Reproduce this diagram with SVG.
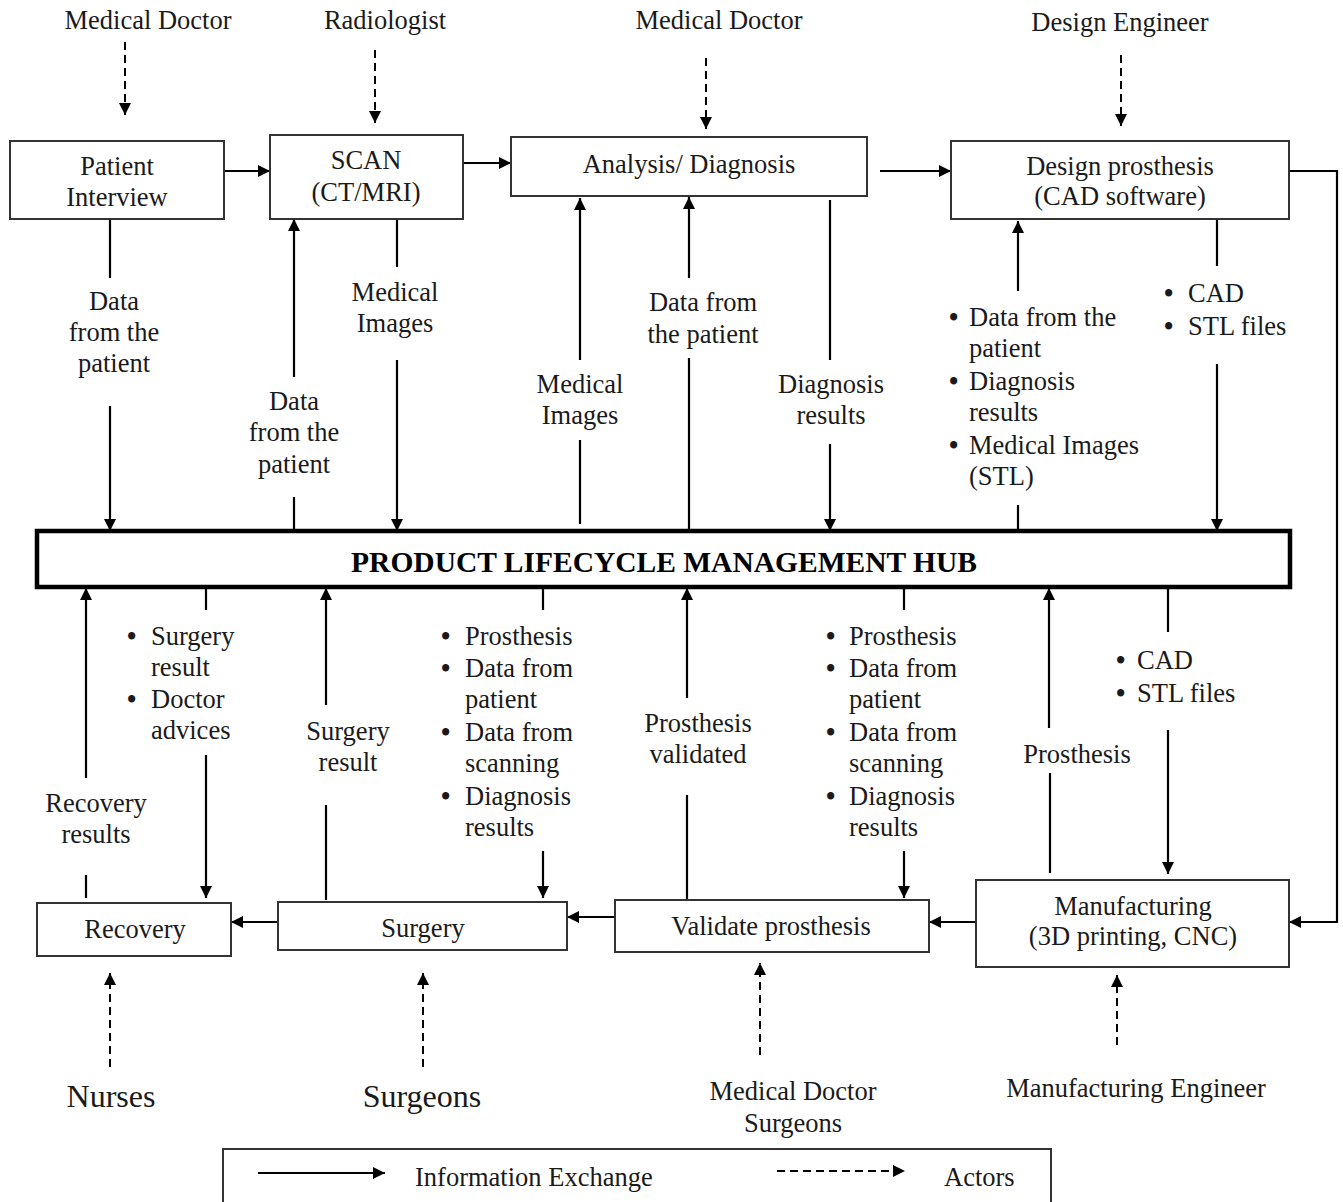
<svg xmlns="http://www.w3.org/2000/svg" width="1343" height="1202" viewBox="0 0 1343 1202">
<style>
text{font-family:"Liberation Serif","Times New Roman",serif;font-size:26.5px;fill:#1a1a1a}
.c{text-anchor:middle}
.b{font-weight:bold}
.big{font-size:32px}
.hub{font-size:29.5px;font-weight:bold;fill:#000}
.box{fill:#fff;stroke:#333;stroke-width:2}
.hubbox{fill:#fff;stroke:#000;stroke-width:4.5}
.flow{fill:none;stroke:#000;stroke-width:2.2;marker-end:url(#ah)}
.actor{fill:none;stroke:#000;stroke-width:2;stroke-dasharray:8,5;marker-end:url(#ah)}
</style>
<defs>
<marker id="ah" viewBox="0 0 10 10" refX="10" refY="5" markerWidth="14" markerHeight="12" markerUnits="userSpaceOnUse" orient="auto">
<path d="M0,0 L10,5 L0,10 Z" fill="#000"/>
</marker>
</defs>
<rect width="1343" height="1202" fill="#fff"/>

<g id="connectors">
<path class="flow" d="M224,171 L270,171"/>
<path class="flow" d="M463,163 L511,163"/>
<path class="flow" d="M880,171 L951,171"/>
<path class="flow" d="M1289,171 L1337,171 L1337,922 L1289,922"/>
<path class="flow" d="M110,219 L110,278 M110,406 L110,531"/>
<path class="flow" d="M294,531 L294,497 M294,377 L294,219"/>
<path class="flow" d="M397,219 L397,267 M397,360 L397,531"/>
<path class="flow" d="M580,524 L580,440 M580,360 L580,198"/>
<path class="flow" d="M689,531 L689,358 M689,278 L689,197"/>
<path class="flow" d="M830,200 L830,360 M830,444 L830,531"/>
<path class="flow" d="M1018,531 L1018,505 M1018,291 L1018,221"/>
<path class="flow" d="M1217,219 L1217,266 M1217,364 L1217,531"/>
<path class="flow" d="M86,898 L86,875 M86,778 L86,588"/>
<path class="flow" d="M206,587 L206,610 M206,755 L206,898"/>
<path class="flow" d="M326,900 L326,805 M326,705 L326,588"/>
<path class="flow" d="M543,587 L543,610 M543,851 L543,898"/>
<path class="flow" d="M687,900 L687,795 M687,698 L687,588"/>
<path class="flow" d="M904,587 L904,610 M904,851 L904,898"/>
<path class="flow" d="M1050,873 L1050,773 M1049,728 L1049,588"/>
<path class="flow" d="M1168,587 L1168,632 M1168,730 L1168,874"/>
<path class="flow" d="M976,922 L929,922"/>
<path class="flow" d="M615,917 L567,917"/>
<path class="flow" d="M278,922 L231,922"/>
<path class="actor" d="M125,42 L125,115"/>
<path class="actor" d="M375,50 L375,123"/>
<path class="actor" d="M706,58 L706,129"/>
<path class="actor" d="M1121,55 L1121,126"/>
<path class="actor" d="M110,1067 L110,973"/>
<path class="actor" d="M423,1067 L423,973"/>
<path class="actor" d="M760,1055 L760,963"/>
<path class="actor" d="M1117,1045 L1117,975"/>
</g>

<g id="actors">
<text class="c" x="148" y="29">Medical Doctor</text>
<text class="c" x="385" y="29">Radiologist</text>
<text class="c" x="719" y="29">Medical Doctor</text>
<text class="c" x="1120" y="31">Design Engineer</text>
<text class="c big" x="111" y="1107">Nurses</text>
<text class="c big" x="422" y="1107">Surgeons</text>
<text class="c" x="793" y="1100">Medical Doctor</text>
<text class="c" x="793" y="1132">Surgeons</text>
<text class="c" x="1136" y="1097">Manufacturing Engineer</text>
</g>

<g id="patient-interview">
<rect class="box" x="10" y="141" width="214" height="78"/>
<text class="c" x="117" y="175">Patient</text>
<text class="c" x="117" y="206">Interview</text>
</g>
<g id="scan">
<rect class="box" x="270" y="135" width="193" height="84"/>
<text class="c" x="366" y="169">SCAN</text>
<text class="c" x="366" y="201">(CT/MRI)</text>
</g>
<g id="analysis">
<rect class="box" x="511" y="137" width="356" height="59"/>
<text class="c" x="689" y="173">Analysis/ Diagnosis</text>
</g>
<g id="design">
<rect class="box" x="951" y="141" width="338" height="78"/>
<text class="c" x="1120" y="175">Design prosthesis</text>
<text class="c" x="1120" y="205">(CAD software)</text>
</g>
<g id="hub">
<rect class="hubbox" x="37" y="531" width="1253" height="56"/>
<text class="c hub" x="664" y="572">PRODUCT LIFECYCLE MANAGEMENT HUB</text>
</g>
<g id="recovery">
<rect class="box" x="37" y="903" width="194" height="53"/>
<text class="c" x="135" y="938">Recovery</text>
</g>
<g id="surgery">
<rect class="box" x="278" y="902" width="289" height="48"/>
<text class="c" x="423" y="937">Surgery</text>
</g>
<g id="validate">
<rect class="box" x="615" y="900" width="314" height="52"/>
<text class="c" x="771" y="935">Validate prosthesis</text>
</g>
<g id="manufacturing">
<rect class="box" x="976" y="880" width="313" height="87"/>
<text class="c" x="1133" y="915">Manufacturing</text>
<text class="c" x="1133" y="945">(3D printing, CNC)</text>
</g>

<g id="labels">
<text class="c" x="114" y="310">Data</text>
<text class="c" x="114" y="341">from the</text>
<text class="c" x="114" y="372">patient</text>
<text class="c" x="294" y="410">Data</text>
<text class="c" x="294" y="441">from the</text>
<text class="c" x="294" y="473">patient</text>
<text class="c" x="395" y="301">Medical</text>
<text class="c" x="395" y="332">Images</text>
<text class="c" x="580" y="393">Medical</text>
<text class="c" x="580" y="424">Images</text>
<text class="c" x="703" y="311">Data from</text>
<text class="c" x="703" y="343">the patient</text>
<text class="c" x="831" y="393">Diagnosis</text>
<text class="c" x="831" y="424">results</text>
<text class="b" x="949" y="326">•</text><text x="969" y="326">Data from the</text>
<text x="969" y="357">patient</text>
<text class="b" x="949" y="390">•</text><text x="969" y="390">Diagnosis</text>
<text x="969" y="421">results</text>
<text class="b" x="949" y="454">•</text><text x="969" y="454">Medical Images</text>
<text x="969" y="485">(STL)</text>
<text class="b" x="1164" y="302">•</text><text x="1188" y="302">CAD</text>
<text class="b" x="1164" y="335">•</text><text x="1188" y="335">STL files</text>
<text class="b" x="127" y="645">•</text><text x="151" y="645">Surgery</text>
<text x="151" y="676">result</text>
<text class="b" x="127" y="708">•</text><text x="151" y="708">Doctor</text>
<text x="151" y="739">advices</text>
<text class="c" x="96" y="812">Recovery</text>
<text class="c" x="96" y="843">results</text>
<text class="c" x="348" y="740">Surgery</text>
<text class="c" x="348" y="771">result</text>
<text class="b" x="441" y="645">•</text><text x="465" y="645">Prosthesis</text>
<text class="b" x="441" y="677">•</text><text x="465" y="677">Data from</text>
<text x="465" y="708">patient</text>
<text class="b" x="441" y="741">•</text><text x="465" y="741">Data from</text>
<text x="465" y="772">scanning</text>
<text class="b" x="441" y="805">•</text><text x="465" y="805">Diagnosis</text>
<text x="465" y="836">results</text>
<text class="c" x="698" y="732">Prosthesis</text>
<text class="c" x="698" y="763">validated</text>
<text class="b" x="826" y="645">•</text><text x="849" y="645">Prosthesis</text>
<text class="b" x="826" y="677">•</text><text x="849" y="677">Data from</text>
<text x="849" y="708">patient</text>
<text class="b" x="826" y="741">•</text><text x="849" y="741">Data from</text>
<text x="849" y="772">scanning</text>
<text class="b" x="826" y="805">•</text><text x="849" y="805">Diagnosis</text>
<text x="849" y="836">results</text>
<text class="c" x="1077" y="763">Prosthesis</text>
<text class="b" x="1116" y="669">•</text><text x="1137" y="669">CAD</text>
<text class="b" x="1116" y="702">•</text><text x="1137" y="702">STL files</text>
</g>

<g id="legend">
<rect class="box" x="223" y="1149" width="828" height="70"/>
<path class="flow" d="M258,1173 L385,1173"/>
<text x="415" y="1186">Information Exchange</text>
<path class="actor" d="M777,1171 L905,1171"/>
<text x="944" y="1186">Actors</text>
</g>
</svg>
